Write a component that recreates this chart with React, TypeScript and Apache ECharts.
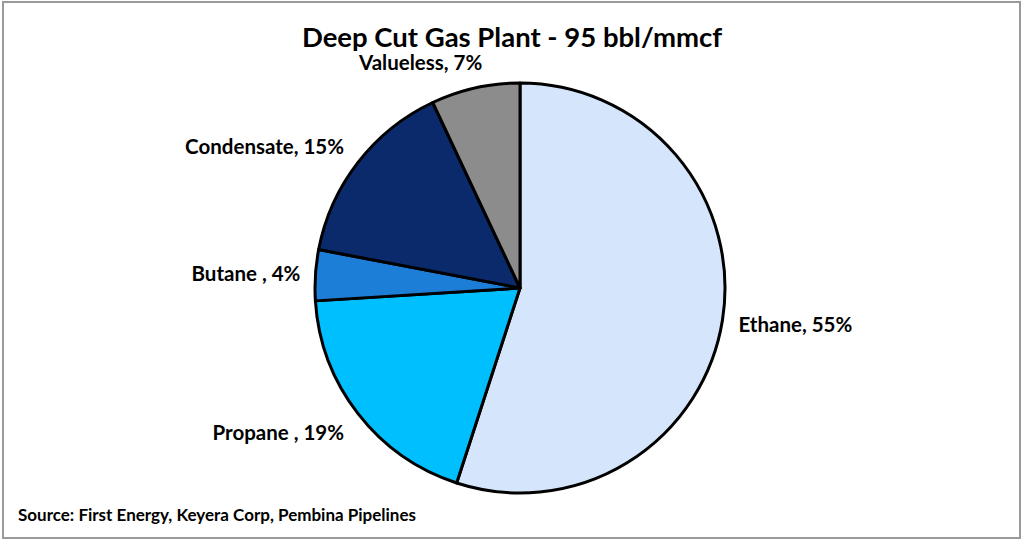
import React, { useEffect, useRef } from "react";
import * as echarts from "echarts";

const categories = ["Ethane", "Propane ", "Butane ", "Condensate", "Valueless"];
const values = [55, 19, 4, 15, 7];
const colors = ["#D5E6FC", "#00BFFF", "#1C7ED6", "#0A2A6B", "#8C8C8C"];
const title = "Deep Cut Gas Plant - 95 bbl/mmcf";
const source = "Source: First Energy, Keyera Corp, Pembina Pipelines";

const FONT = "Lato";
// small label nudges [dx, dy] to mimic the original label placement
const labelNudge: number[][] = [[1, 3], [0, 15], [0, -2], [0, -13], [18, -21]];

export default function App() {
  const ref = useRef<HTMLDivElement>(null);
  useEffect(() => {
    const chart = echarts.init(ref.current!, null, { renderer: "svg" });
    chart.setOption({
      animation: false,
      backgroundColor: "#ffffff",
      title: {
        text: title,
        left: "center",
        top: 17,
        textStyle: { fontFamily: FONT, fontWeight: "bold", fontSize: 27.5, color: "#000" },
      },
      graphic: [
        {
          type: "rect",
          shape: { x: 3, y: 2, width: 1017, height: 536 },
          style: { fill: "none", stroke: "#9a9a9a", lineWidth: 2 },
          silent: true,
        },
        {
          type: "text",
          left: 18,
          top: 506,
          style: { text: source, fontFamily: FONT, fontWeight: "bold", fontSize: 17, fill: "#000" },
        },
      ],
      series: [
        {
          type: "pie",
          center: [520, 288],
          radius: 205,
          startAngle: 90,
          clockwise: true,
          avoidLabelOverlap: false,
          data: categories.map((c, i) => ({
            name: c,
            value: values[i],
            itemStyle: { color: colors[i] },
            label: { offset: labelNudge[i] },
          })),
          itemStyle: { borderColor: "#000", borderWidth: 3 },
          label: {
            show: true,
            position: "outside",
            formatter: (p: any) => `${p.name}, ${p.value}%`,
            fontFamily: FONT,
            fontWeight: "bold",
            fontSize: 20.5,
            color: "#000",
          },
          labelLine: { show: false, length: 5, length2: 5 },
        },
      ],
    });
    return () => chart.dispose();
  }, []);
  return <div ref={ref} style={{ position: "absolute", left: 0, top: 0, width: 1024, height: 541 }} />;
}
